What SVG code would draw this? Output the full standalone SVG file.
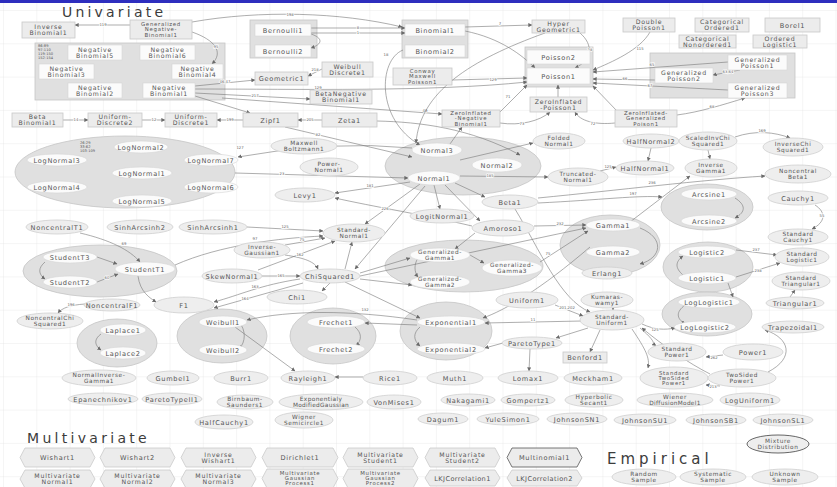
<svg xmlns="http://www.w3.org/2000/svg" width="837" height="487" viewBox="0 0 837 487">
<defs>
<pattern id="grid" x="3" y="10" width="33.3" height="33.3" patternUnits="userSpaceOnUse"><path d="M33.3 0 L0 0 0 33.3" fill="none" stroke="#e3e3e3" stroke-width="0.7"/></pattern>
<marker id="a" viewBox="0 0 6 6" refX="5.5" refY="3" markerWidth="4" markerHeight="4" markerUnits="userSpaceOnUse" orient="auto"><path d="M0 0 L6 3 L0 6 z" fill="#6a6a6a"/></marker>
<style>
text{font-family:"DejaVu Sans",sans-serif;fill:#555555;text-anchor:middle}
.t{font-size:6.6px;letter-spacing:0.7px}
.ts{font-size:6.2px;letter-spacing:0.8px}
.te{font-size:5.8px;letter-spacing:0.6px}
.t3{font-size:5.4px;letter-spacing:0.7px}
.ttl{font-size:14px;letter-spacing:3.2px;text-anchor:start;fill:#3c3c3c}
.n{fill:#ececec;stroke:#c8c8c8;stroke-width:0.8}
.e{fill:#eeeeee;stroke:#cfcfcf;stroke-width:0.8}
.gp{fill:#e0e0e0;stroke:#c5c5c5;stroke-width:0.8}
.w{fill:#fbfbfb;stroke:#d5d5d5;stroke-width:0.6}
.d{fill:#eeeeee;stroke:#555;stroke-width:0.9}
.h{fill:#ececec;stroke:#cacaca;stroke-width:0.8}
.c{fill:none;stroke:#777;stroke-width:0.6;marker-end:url(#a)}
.lb{font-size:3.8px;fill:#666;stroke:#fff;stroke-width:1.4px;paint-order:stroke}
.gl{font-size:3.6px;fill:#555;text-anchor:start}
</style>
</defs>
<rect width="837" height="487" fill="#ffffff"/>
<rect width="837" height="487" fill="url(#grid)"/>
<rect x="0" y="0" width="837" height="3" fill="#2e2ebe"/>

<text class="ttl" x="62" y="17">Univariate</text>
<text class="ttl" x="27" y="443" style="letter-spacing:3.3px">Multivariate</text>
<text class="ttl" x="607" y="464" style="font-size:15px;letter-spacing:4px">Empirical</text>

<!-- group containers -->
<g id="grp-negbin"><rect class="gp" x="35" y="43" width="190" height="57"/><text class="gl" x="38" y="47">86-89</text><text class="gl" x="38" y="51">97-110</text><text class="gl" x="38" y="55">119-150</text><text class="gl" x="38" y="59">152-154</text></g>
<g id="grp-bernoulli"><rect class="gp" x="250" y="20" width="67" height="38"/></g>
<g id="grp-binomial"><rect class="gp" x="402" y="20" width="66" height="38"/></g>
<g id="grp-poisson"><rect class="gp" x="525" y="47" width="68" height="40"/></g>
<g id="grp-genpoisson"><rect class="gp" x="650" y="53" width="145" height="45"/></g>
<g id="grp-lognormal"><ellipse class="gp" cx="125" cy="172" rx="110" ry="36"/><text class="gl" x="80" y="144">26-29</text><text class="gl" x="80" y="148">33-62</text><text class="gl" x="80" y="152">103-109</text></g>
<g id="grp-normal"><ellipse class="gp" cx="463" cy="166" rx="78" ry="29"/></g>
<g id="grp-arcsine"><ellipse class="gp" cx="707" cy="207" rx="46" ry="23"/></g>
<g id="grp-gamma"><ellipse class="gp" cx="610" cy="245" rx="50" ry="30"/></g>
<g id="grp-logistic"><ellipse class="gp" cx="708" cy="267" rx="45" ry="25"/></g>
<g id="grp-loglogistic"><ellipse class="gp" cx="707" cy="314" rx="45" ry="22"/></g>
<g id="grp-studentt"><ellipse class="gp" cx="100" cy="271" rx="77" ry="26"/></g>
<g id="grp-gengamma"><ellipse class="gp" cx="464" cy="266" rx="79" ry="26"/></g>
<g id="grp-weibull"><ellipse class="gp" cx="222" cy="336" rx="45" ry="27"/></g>
<g id="grp-frechet"><ellipse class="gp" cx="333" cy="336" rx="43" ry="28"/></g>
<g id="grp-exponential"><ellipse class="gp" cx="446" cy="331" rx="46" ry="29"/></g>
<g id="grp-laplace"><ellipse class="gp" cx="117" cy="343" rx="40" ry="24"/></g>

<!-- connectors -->
<g id="connectors">
<path class="c" d="M130 25 L75 25"/><text class="lb" x="103" y="26">119</text>
<path class="c" d="M192 22 C260 10 340 12 402 27"/><text class="lb" x="290" y="16">198</text>
<path class="c" d="M192 32 C215 40 224 52 212 64"/><text class="lb" x="216" y="48">95</text>
<path class="c" d="M311 28 L405 28"/><text class="lb" x="358" y="29">8</text>
<path class="c" d="M311 33 L405 33"/><text class="lb" x="358" y="34">1</text>
<path class="c" d="M311 34 C323 38 323 44 311 48"/>
<path class="c" d="M322 69 L308 76"/><text class="lb" x="315" y="71">218</text>
<path class="c" d="M195 86 L255 80"/><text class="lb" x="225" y="83">46,47</text>
<path class="c" d="M195 89 C300 89 430 92 527 82"/><text class="lb" x="318" y="89">129</text>
<path class="c" d="M195 93 L310 99"/><text class="lb" x="255" y="97">217</text>
<path class="c" d="M222 98 L442 114"/><text class="lb" x="425" y="112">49</text>
<path class="c" d="M195 96 L250 113"/>
<path class="c" d="M243 120 L217 120"/><text class="lb" x="230" y="121">199</text>
<path class="c" d="M142 120 L165 120"/><text class="lb" x="154" y="121">12</text>
<path class="c" d="M63 120 L88 120"/><text class="lb" x="76" y="121">14</text>
<path class="c" d="M322 120 L298 120"/><text class="lb" x="310" y="121">205</text>
<path class="c" d="M377 121 C420 122 470 128 520 155"/>
<path class="c" d="M285 127 L412 157"/><text class="lb" x="318" y="136">82</text>
<path class="c" d="M452 80 L527 78"/><text class="lb" x="493" y="81">129</text>
<path class="c" d="M465 27 L532 25"/><text class="lb" x="500" y="25">7</text>
<path class="c" d="M465 31 C500 38 522 55 535 68"/>
<path class="c" d="M580 33 C594 45 592 60 575 68"/><text class="lb" x="590" y="51">28</text>
<path class="c" d="M545 33 C470 60 420 92 416 143"/>
<path class="c" d="M403 50 C378 60 376 120 420 145"/><text class="lb" x="386" y="56">18</text>
<path class="c" d="M650 32 C640 50 612 62 593 70"/><text class="lb" x="640" y="50">115</text>
<path class="c" d="M728 62 L593 72"/><text class="lb" x="652" y="66">65</text>
<path class="c" d="M655 80 L593 79"/><text class="lb" x="625" y="80">66</text>
<path class="c" d="M728 90 L593 83"/><text class="lb" x="650" y="87">67</text>
<path class="c" d="M740 70 L713 75"/><text class="lb" x="728" y="73">63,64</text>
<path class="c" d="M677 115 C700 112 722 105 745 98"/><text class="lb" x="712" y="108">68</text>
<path class="c" d="M617 111 L593 86"/>
<path class="c" d="M558 97 L558 85"/>
<path class="c" d="M500 112 L527 85"/><text class="lb" x="508" y="98">71</text>
<path class="c" d="M500 123 C520 126 540 121 550 112"/><text class="lb" x="522" y="125">73</text>
<path class="c" d="M615 123 C595 125 580 121 575 112"/><text class="lb" x="593" y="125">72</text>
<path class="c" d="M450 144 L462 127"/>
<path class="c" d="M460 160 L533 143"/>
<path class="c" d="M235 173 L408 178"/><text class="lb" x="282" y="175">23</text>
<path class="c" d="M412 148 Q330 140 238 157"/><text class="lb" x="240" y="149">127</text>
<path class="c" d="M410 182 L335 193"/><text class="lb" x="370" y="187">181</text>
<path class="c" d="M420 184 L365 224"/>
<path class="c" d="M472 226 C430 216 370 206 335 198"/><text class="lb" x="385" y="210">226</text>
<path class="c" d="M247 227 L323 231"/><text class="lb" x="285" y="228">125</text>
<path class="c" d="M175 265 C220 245 280 238 323 236"/><text class="lb" x="255" y="240">97</text>
<path class="c" d="M285 245 L325 238"/><text class="lb" x="302" y="241">75</text>
<path class="c" d="M285 255 C305 258 315 262 318 269"/>
<path class="c" d="M262 276 L300 276"/><text class="lb" x="281" y="277">165</text>
<path class="c" d="M258 270 L335 241"/><text class="lb" x="300" y="256">162</text>
<path class="c" d="M345 269 L352 242"/>
<path class="c" d="M300 279 C260 285 240 295 214 302"/><text class="lb" x="255" y="288">163</text>
<path class="c" d="M303 283 L214 308"/><text class="lb" x="245" y="300">164</text>
<path class="c" d="M330 283 L322 291"/>
<path class="c" d="M425 186 L355 269"/>
<path class="c" d="M80 233 C110 240 130 250 140 262"/><text class="lb" x="124" y="245">69</text>
<path class="c" d="M97 257 L117 264"/>
<path class="c" d="M97 282 L118 274"/><text class="lb" x="107" y="279">60</text>
<path class="c" d="M138 276 C140 292 150 298 156 302"/>
<path class="c" d="M85 304 C70 305 62 308 58 313"/><text class="lb" x="71" y="306">196</text>
<path class="c" d="M455 183 L485 197"/>
<path class="c" d="M460 176 L548 177"/><text class="lb" x="490" y="177">185</text>
<path class="c" d="M434 185 L440 209"/>
<path class="c" d="M445 185 L480 221"/>
<path class="c" d="M600 171 L616 167"/><text class="lb" x="608" y="168">125</text>
<path class="c" d="M651 148 L648 161"/>
<path class="c" d="M538 198 C620 190 700 180 765 176"/><text class="lb" x="652" y="184">236</text>
<path class="c" d="M538 203 C600 200 640 195 662 197"/><text class="lb" x="633" y="195">197</text>
<path class="c" d="M735 198 C746 205 746 212 735 218"/>
<path class="c" d="M534 226 L586 225"/><text class="lb" x="560" y="225">232</text>
<path class="c" d="M475 233 L455 249"/>
<path class="c" d="M540 262 L588 231"/><text class="lb" x="548" y="255">75</text>
<path class="c" d="M360 273 L410 258"/>
<path class="c" d="M360 276 L586 228"/>
<path class="c" d="M360 279 L412 285"/>
<path class="c" d="M590 247 C540 290 505 310 483 318"/>
<path class="c" d="M630 222 L690 176"/>
<path class="c" d="M708 150 L710 159"/>
<path class="c" d="M735 137 C755 130 775 132 790 138"/><text class="lb" x="762" y="132">169</text>
<path class="c" d="M815 205 C826 212 826 222 812 229"/><text class="lb" x="822" y="217">55</text>
<path class="c" d="M736 250 L777 255"/><text class="lb" x="756" y="251">237</text>
<path class="c" d="M736 277 L780 263"/><text class="lb" x="758" y="272">238</text>
<path class="c" d="M683 275 C675 268 675 262 683 256"/>
<path class="c" d="M728 283 L733 297"/>
<path class="c" d="M685 305 C676 312 676 318 685 324"/>
<path class="c" d="M640 228 C665 238 662 258 640 264"/>
<path class="c" d="M790 297 L795 290"/>
<path class="c" d="M768 372 C795 358 790 338 765 330"/>
<path class="c" d="M723 355 L706 357"/><text class="lb" x="714" y="359">262</text>
<path class="c" d="M720 386 L706 385"/><text class="lb" x="713" y="388">213</text>
<path class="c" d="M640 328 C652 338 656 344 652 345"/>
<path class="c" d="M642 324 C655 330 665 330 675 328"/><text class="lb" x="655" y="331">125</text>
<path class="c" d="M632 329 C646 350 650 358 648 368"/>
<path class="c" d="M710 374 C690 364 662 345 642 328"/>
<path class="c" d="M613 308 L613 310"/>
<path class="c" d="M555 305 L583 316"/><text class="lb" x="567" y="309">201,202</text>
<path class="c" d="M515 209 C540 250 560 300 590 312"/>
<path class="c" d="M582 321 L485 323"/><text class="lb" x="533" y="321">11</text>
<path class="c" d="M600 330 L590 352"/>
<path class="c" d="M503 343 L485 348"/>
<path class="c" d="M588 328 L556 338"/>
<path class="c" d="M530 349 L529 371"/>
<path class="c" d="M417 320 C350 310 290 310 247 320"/><text class="lb" x="365" y="311">132</text>
<path class="c" d="M417 325 L365 323"/>
<path class="c" d="M235 327 L295 371"/>
<path class="c" d="M363 377 L335 377"/>
<path class="c" d="M345 282 L420 318"/>
<path class="c" d="M239 322 C246 330 246 342 239 349"/>
<path class="c" d="M355 327 C362 333 362 340 356 346"/>
<path class="c" d="M420 327 C413 333 413 340 420 346"/>
<path class="c" d="M101 334 C94 339 94 345 101 350"/>
<path class="c" d="M45 262 C38 268 38 274 45 279"/>
<path class="c" d="M418 258 C414 264 414 272 418 277"/>
<path class="c" d="M470 255 L484 263"/>
</g>

<!-- rectangle nodes -->
<g id="InverseBinomial1"><rect class="n" x="22" y="22" width="53" height="16"/><text class="ts" x="48.5" y="29.2">Inverse</text><text class="ts" x="48.5" y="35.4">Binomial1</text></g>
<g id="GeneralizedNegativeBinomial1"><rect class="n" x="130" y="20" width="62" height="19"/><text class="t3" x="161" y="26">Generalized</text><text class="t3" x="161" y="31.4">Negative-</text><text class="t3" x="161" y="36.8">Binomial1</text></g>
<g id="NegativeBinomial5"><rect class="w" x="68" y="45" width="54" height="15"/><text class="ts" x="95" y="51.7">Negative</text><text class="ts" x="95" y="57.9">Binomial5</text></g>
<g id="NegativeBinomial6"><rect class="w" x="140" y="45" width="55" height="15"/><text class="ts" x="167.5" y="51.7">Negative</text><text class="ts" x="167.5" y="57.9">Binomial6</text></g>
<g id="NegativeBinomial3"><rect class="w" x="39" y="64" width="55" height="15"/><text class="ts" x="66.5" y="70.7">Negative</text><text class="ts" x="66.5" y="76.9">Binomial3</text></g>
<g id="NegativeBinomial4"><rect class="w" x="172" y="64" width="51" height="15"/><text class="ts" x="197.5" y="70.7">Negative</text><text class="ts" x="197.5" y="76.9">Binomial4</text></g>
<g id="NegativeBinomial2"><rect class="w" x="68" y="83" width="54" height="15"/><text class="ts" x="95" y="89.7">Negative</text><text class="ts" x="95" y="95.9">Binomial2</text></g>
<g id="NegativeBinomial1"><rect class="w" x="143" y="83" width="52" height="15"/><text class="ts" x="169" y="89.7">Negative</text><text class="ts" x="169" y="95.9">Binomial1</text></g>
<g id="BetaBinomial1"><rect class="n" x="12" y="113" width="51" height="14"/><text class="ts" x="37.5" y="119.2">Beta</text><text class="ts" x="37.5" y="125.4">Binomial1</text></g>
<g id="UniformDiscrete2"><rect class="n" x="88" y="113" width="54" height="14"/><text class="ts" x="115" y="119.2">Uniform-</text><text class="ts" x="115" y="125.4">Discrete2</text></g>
<g id="UniformDiscrete1"><rect class="n" x="165" y="113" width="52" height="14"/><text class="ts" x="191" y="119.2">Uniform-</text><text class="ts" x="191" y="125.4">Discrete1</text></g>
<g id="Bernoulli1"><rect class="w" x="255" y="24" width="56" height="12"/><text class="t" x="283" y="32.5">Bernoulli1</text></g>
<g id="Bernoulli2"><rect class="w" x="255" y="45" width="56" height="12"/><text class="t" x="283" y="53.5">Bernoulli2</text></g>
<g id="WeibullDiscrete1"><rect class="n" x="322" y="62" width="51" height="15"/><text class="ts" x="347.5" y="68.7">Weibull</text><text class="ts" x="347.5" y="74.9">Discrete1</text></g>
<g id="Geometric1"><rect class="n" x="255" y="72" width="53" height="13"/><text class="t" x="281.5" y="81">Geometric1</text></g>
<g id="BetaNegativeBinomial1"><rect class="n" x="310" y="90" width="62" height="14"/><text class="ts" x="341" y="96.2">BetaNegative</text><text class="ts" x="341" y="102.4">Binomial1</text></g>
<g id="Zipf1"><rect class="n" x="243" y="113" width="55" height="14"/><text class="t" x="270.5" y="122.5">Zipf1</text></g>
<g id="Zeta1"><rect class="n" x="322" y="113" width="55" height="14"/><text class="t" x="349.5" y="122.5">Zeta1</text></g>
<g id="ConwayMaxwellPoisson1"><rect class="n" x="393" y="68" width="59" height="17"/><text class="t3" x="422.5" y="73">Conway</text><text class="t3" x="422.5" y="78.4">Maxwell</text><text class="t3" x="422.5" y="83.8">Poisson1</text></g>
<g id="Binomial1"><rect class="w" x="405" y="24" width="60" height="12"/><text class="t" x="435" y="32.5">Binomial1</text></g>
<g id="Binomial2"><rect class="w" x="405" y="45" width="60" height="12"/><text class="t" x="435" y="53.5">Binomial2</text></g>
<g id="HyperGeometric1"><rect class="n" x="532" y="20" width="53" height="13"/><text class="ts" x="558.5" y="25.7">Hyper</text><text class="ts" x="558.5" y="31.9">Geometric1</text></g>
<g id="Poisson2"><rect class="w" x="527" y="50" width="63" height="14"/><text class="t" x="558.5" y="59.5">Poisson2</text></g>
<g id="Poisson1"><rect class="w" x="527" y="68" width="63" height="16"/><text class="t" x="558.5" y="78.5">Poisson1</text></g>
<g id="ZeroInflatedPoisson1"><rect class="n" x="530" y="97" width="57" height="15"/><text class="ts" x="558.5" y="103.7">ZeroInflated</text><text class="ts" x="558.5" y="109.9">-Poisson1</text></g>
<g id="ZeroInflatedNegativeBinomial1"><rect class="n" x="442" y="110" width="58" height="17"/><text class="t3" x="471" y="115">ZeroInflated</text><text class="t3" x="471" y="120.4">-Negative</text><text class="t3" x="471" y="125.8">Binomial1</text></g>
<g id="DoublePoisson1"><rect class="n" x="623" y="18" width="52" height="14"/><text class="ts" x="649" y="24.2">Double</text><text class="ts" x="649" y="30.4">Poisson1</text></g>
<g id="CategoricalOrdered1"><rect class="n" x="695" y="18" width="54" height="14"/><text class="ts" x="722" y="24.2">Categorical</text><text class="ts" x="722" y="30.4">Ordered1</text></g>
<g id="Borel1"><rect class="n" x="765" y="18" width="55" height="14"/><text class="t" x="792.5" y="27.5">Borel1</text></g>
<g id="CategoricalNonordered1"><rect class="n" x="679" y="35" width="57" height="13"/><text class="ts" x="707.5" y="40.7">Categorical</text><text class="ts" x="707.5" y="46.9">Nonordered1</text></g>
<g id="OrderedLogistic1"><rect class="n" x="753" y="35" width="54" height="13"/><text class="ts" x="780" y="40.7">Ordered</text><text class="ts" x="780" y="46.9">Logistic1</text></g>
<g id="GeneralizedPoisson1"><rect class="w" x="728" y="55" width="59" height="15"/><text class="ts" x="757.5" y="61.7">Generalized</text><text class="ts" x="757.5" y="67.9">Poisson1</text></g>
<g id="GeneralizedPoisson2"><rect class="w" x="655" y="68" width="58" height="15"/><text class="ts" x="684" y="74.7">Generalized</text><text class="ts" x="684" y="80.9">Poisson2</text></g>
<g id="GeneralizedPoisson3"><rect class="w" x="728" y="83" width="59" height="15"/><text class="ts" x="757.5" y="89.7">Generalized</text><text class="ts" x="757.5" y="95.9">Poisson3</text></g>
<g id="ZeroInflatedGeneralizedPoison1"><rect class="n" x="615" y="110" width="62" height="17"/><text class="t3" x="646" y="115">ZeroInflated-</text><text class="t3" x="646" y="120.4">Generalized</text><text class="t3" x="646" y="125.8">Poison1</text></g>
<g id="Benford1"><rect class="n" x="563" y="352" width="44" height="11"/><text class="t" x="585" y="360">Benford1</text></g>

<!-- ellipse nodes -->
<g id="LogNormal2"><ellipse class="w" cx="141" cy="147" rx="27" ry="6"/><text class="t" x="141" y="149.5">LogNormal2</text></g>
<g id="LogNormal3"><ellipse class="w" cx="57" cy="160" rx="30" ry="6"/><text class="t" x="57" y="162.5">LogNormal3</text></g>
<g id="LogNormal7"><ellipse class="w" cx="211" cy="160" rx="27" ry="6"/><text class="t" x="211" y="162.5">LogNormal7</text></g>
<g id="LogNormal1"><ellipse class="w" cx="142" cy="173" rx="30" ry="6"/><text class="t" x="142" y="175.5">LogNormal1</text></g>
<g id="LogNormal4"><ellipse class="w" cx="57" cy="187" rx="30" ry="6"/><text class="t" x="57" y="189.5">LogNormal4</text></g>
<g id="LogNormal6"><ellipse class="w" cx="211" cy="187" rx="27" ry="6"/><text class="t" x="211" y="189.5">LogNormal6</text></g>
<g id="LogNormal5"><ellipse class="w" cx="142" cy="201" rx="30" ry="6"/><text class="t" x="142" y="203.5">LogNormal5</text></g>
<g id="MaxwellBoltzmann1"><ellipse class="e" cx="304" cy="146" rx="33" ry="8"/><text class="te" x="304" y="145.2">Maxwell</text><text class="te" x="304" y="151.2">Boltzmann1</text></g>
<g id="PowerNormal1"><ellipse class="e" cx="329" cy="167" rx="29" ry="9"/><text class="te" x="329" y="166.2">Power-</text><text class="te" x="329" y="172.2">Normal1</text></g>
<g id="Normal3"><ellipse class="w" cx="437" cy="150" rx="25" ry="7"/><text class="t" x="437" y="152.5">Normal3</text></g>
<g id="Normal1"><ellipse class="w" cx="434" cy="178" rx="26" ry="7"/><text class="t" x="434" y="180.5">Normal1</text></g>
<g id="Normal2"><ellipse class="w" cx="497" cy="165" rx="25" ry="7"/><text class="t" x="497" y="167.5">Normal2</text></g>
<g id="FoldedNormal1"><ellipse class="e" cx="559" cy="141" rx="26" ry="8"/><text class="te" x="559" y="140.2">Folded</text><text class="te" x="559" y="146.2">Normal1</text></g>
<g id="HalfNormal2"><ellipse class="e" cx="651" cy="141" rx="28" ry="7"/><text class="t" x="651" y="143.5">HalfNormal2</text></g>
<g id="ScaledInvChiSquared1"><ellipse class="e" cx="708" cy="141" rx="29" ry="9"/><text class="te" x="708" y="140.2">ScaledInvChi</text><text class="te" x="708" y="146.2">Squared1</text></g>
<g id="InverseChiSquared1"><ellipse class="e" cx="793" cy="147" rx="30" ry="9"/><text class="te" x="793" y="146.2">InverseChi</text><text class="te" x="793" y="152.2">Squared1</text></g>
<g id="Levy1"><ellipse class="e" cx="305" cy="195" rx="30" ry="7"/><text class="t" x="305" y="197.5">Levy1</text></g>
<g id="LogitNormal1"><ellipse class="e" cx="442" cy="216" rx="32" ry="7"/><text class="t" x="442" y="218.5">LogitNormal1</text></g>
<g id="Beta1"><ellipse class="e" cx="510" cy="202" rx="28" ry="7"/><text class="t" x="510" y="204.5">Beta1</text></g>
<g id="TruncatedNormal1"><ellipse class="e" cx="578" cy="177" rx="30" ry="9"/><text class="te" x="578" y="176.2">Truncated-</text><text class="te" x="578" y="182.2">Normal1</text></g>
<g id="HalfNormal1"><ellipse class="e" cx="645" cy="168" rx="29" ry="7"/><text class="t" x="645" y="170.5">HalfNormal1</text></g>
<g id="InverseGamma1"><ellipse class="e" cx="711" cy="168" rx="26" ry="9"/><text class="te" x="711" y="167.2">Inverse</text><text class="te" x="711" y="173.2">Gamma1</text></g>
<g id="NoncentralBeta1"><ellipse class="e" cx="798" cy="174" rx="33" ry="9"/><text class="te" x="798" y="173.2">Noncentral</text><text class="te" x="798" y="179.2">Beta1</text></g>
<g id="Arcsine1"><ellipse class="w" cx="709" cy="194" rx="28" ry="6"/><text class="t" x="709" y="196.5">Arcsine1</text></g>
<g id="Arcsine2"><ellipse class="w" cx="709" cy="221" rx="28" ry="6"/><text class="t" x="709" y="223.5">Arcsine2</text></g>
<g id="Cauchy1"><ellipse class="e" cx="798" cy="198" rx="30" ry="7"/><text class="t" x="798" y="200.5">Cauchy1</text></g>
<g id="StandardCauchy1"><ellipse class="e" cx="798" cy="237" rx="30" ry="8"/><text class="te" x="798" y="236.2">Standard</text><text class="te" x="798" y="242.2">Cauchy1</text></g>
<g id="NoncentralT1"><ellipse class="e" cx="57" cy="227" rx="31" ry="7"/><text class="t" x="57" y="229.5">NoncentralT1</text></g>
<g id="SinhArcsinh2"><ellipse class="e" cx="140" cy="227" rx="33" ry="7"/><text class="t" x="140" y="229.5">SinhArcsinh2</text></g>
<g id="SinhArcsinh1"><ellipse class="e" cx="213" cy="227" rx="34" ry="7"/><text class="t" x="213" y="229.5">SinhArcsinh1</text></g>
<g id="StandardNormal1"><ellipse class="e" cx="354" cy="233" rx="31" ry="9"/><text class="te" x="354" y="232.2">Standard-</text><text class="te" x="354" y="238.2">Normal1</text></g>
<g id="Amoroso1"><ellipse class="e" cx="503" cy="228" rx="31" ry="8"/><text class="t" x="503" y="230.5">Amoroso1</text></g>
<g id="Gamma1"><ellipse class="w" cx="613" cy="225" rx="27" ry="6"/><text class="t" x="613" y="227.5">Gamma1</text></g>
<g id="Gamma2"><ellipse class="w" cx="613" cy="252" rx="27" ry="6"/><text class="t" x="613" y="254.5">Gamma2</text></g>
<g id="Logistic2"><ellipse class="w" cx="707" cy="252" rx="29" ry="6"/><text class="t" x="707" y="254.5">Logistic2</text></g>
<g id="Logistic1"><ellipse class="w" cx="707" cy="278" rx="29" ry="6"/><text class="t" x="707" y="280.5">Logistic1</text></g>
<g id="StandardLogistic1"><ellipse class="e" cx="802" cy="257" rx="27" ry="9"/><text class="te" x="802" y="256.2">Standard</text><text class="te" x="802" y="262.2">Logistic1</text></g>
<g id="StandardTriangular1"><ellipse class="e" cx="801" cy="281" rx="29" ry="9"/><text class="te" x="801" y="280.2">Standard</text><text class="te" x="801" y="286.2">Triangular1</text></g>
<g id="Triangular1"><ellipse class="e" cx="795" cy="303" rx="29" ry="6"/><text class="t" x="795" y="305.5">Triangular1</text></g>
<g id="InverseGaussian1"><ellipse class="e" cx="262" cy="250" rx="28" ry="8"/><text class="te" x="262" y="249.2">Inverse-</text><text class="te" x="262" y="255.2">Gaussian1</text></g>
<g id="StudentT3"><ellipse class="w" cx="70" cy="257" rx="27" ry="6"/><text class="t" x="70" y="259.5">StudentT3</text></g>
<g id="StudentT2"><ellipse class="w" cx="70" cy="282" rx="27" ry="6"/><text class="t" x="70" y="284.5">StudentT2</text></g>
<g id="StudentT1"><ellipse class="w" cx="145" cy="269" rx="30" ry="7"/><text class="t" x="145" y="271.5">StudentT1</text></g>
<g id="GeneralizedGamma1"><ellipse class="w" cx="440" cy="255" rx="30" ry="7"/><text class="te" x="440" y="254.2">Generalized-</text><text class="te" x="440" y="260.2">Gamma1</text></g>
<g id="GeneralizedGamma2"><ellipse class="w" cx="440" cy="282" rx="30" ry="7"/><text class="te" x="440" y="281.2">Generalized-</text><text class="te" x="440" y="287.2">Gamma2</text></g>
<g id="GeneralizedGamma3"><ellipse class="w" cx="512" cy="268" rx="30" ry="8"/><text class="te" x="512" y="267.2">Generalized-</text><text class="te" x="512" y="273.2">Gamma3</text></g>
<g id="SkewNormal1"><ellipse class="e" cx="232" cy="276" rx="30" ry="7"/><text class="t" x="232" y="278.5">SkewNormal1</text></g>
<g id="ChiSquared1"><ellipse class="e" cx="330" cy="276" rx="30" ry="7"/><text class="t" x="330" y="278.5">ChiSquared1</text></g>
<g id="Erlang1"><ellipse class="e" cx="607" cy="273" rx="25" ry="6"/><text class="t" x="607" y="275.5">Erlang1</text></g>
<g id="Kumaraswamy1"><ellipse class="e" cx="607" cy="300" rx="26" ry="8"/><text class="te" x="607" y="299.2">Kumaras-</text><text class="te" x="607" y="305.2">wamy1</text></g>
<g id="Chi1"><ellipse class="e" cx="297" cy="297" rx="30" ry="7"/><text class="t" x="297" y="299.5">Chi1</text></g>
<g id="NoncentralF1"><ellipse class="e" cx="112" cy="305" rx="28" ry="6"/><text class="t" x="112" y="307.5">NoncentralF1</text></g>
<g id="F1"><ellipse class="e" cx="184" cy="305" rx="30" ry="8"/><text class="t" x="184" y="307.5">F1</text></g>
<g id="Uniform1"><ellipse class="e" cx="527" cy="300" rx="31" ry="8"/><text class="t" x="527" y="302.5">Uniform1</text></g>
<g id="LogLogistic1"><ellipse class="w" cx="709" cy="302" rx="31" ry="6"/><text class="t" x="709" y="304.5">LogLogistic1</text></g>
<g id="LogLogistic2"><ellipse class="w" cx="705" cy="327" rx="31" ry="6"/><text class="t" x="705" y="329.5">LogLogistic2</text></g>
<g id="NoncentralChiSquared1"><ellipse class="e" cx="50" cy="321" rx="33" ry="8"/><text class="te" x="50" y="320.2">NoncentralChi</text><text class="te" x="50" y="326.2">Squared1</text></g>
<g id="Weibull1"><ellipse class="w" cx="223" cy="322" rx="24" ry="6"/><text class="t" x="223" y="324.5">Weibull1</text></g>
<g id="Weibull2"><ellipse class="w" cx="223" cy="350" rx="24" ry="6"/><text class="t" x="223" y="352.5">Weibull2</text></g>
<g id="Frechet1"><ellipse class="w" cx="336" cy="322" rx="29" ry="6"/><text class="t" x="336" y="324.5">Frechet1</text></g>
<g id="Frechet2"><ellipse class="w" cx="336" cy="349" rx="29" ry="6"/><text class="t" x="336" y="351.5">Frechet2</text></g>
<g id="Exponential1"><ellipse class="w" cx="451" cy="322" rx="34" ry="6"/><text class="t" x="451" y="324.5">Exponential1</text></g>
<g id="Exponential2"><ellipse class="w" cx="451" cy="349" rx="34" ry="6"/><text class="t" x="451" y="351.5">Exponential2</text></g>
<g id="StandardUniform1"><ellipse class="e" cx="612" cy="320" rx="32" ry="10"/><text class="te" x="612" y="319.2">Standard-</text><text class="te" x="612" y="325.2">Uniform1</text></g>
<g id="Trapezoidal1"><ellipse class="e" cx="793" cy="327" rx="31" ry="6"/><text class="t" x="793" y="329.5">Trapezoidal1</text></g>
<g id="Laplace1"><ellipse class="w" cx="123" cy="330" rx="23" ry="6"/><text class="t" x="123" y="332.5">Laplace1</text></g>
<g id="Laplace2"><ellipse class="w" cx="123" cy="353" rx="23" ry="6"/><text class="t" x="123" y="355.5">Laplace2</text></g>
<g id="ParetoType1"><ellipse class="e" cx="532" cy="343" rx="30" ry="6"/><text class="t" x="532" y="345.5">ParetoType1</text></g>
<g id="StandardPower1"><ellipse class="e" cx="677" cy="352" rx="29" ry="9"/><text class="te" x="677" y="351.2">Standard</text><text class="te" x="677" y="357.2">Power1</text></g>
<g id="Power1"><ellipse class="e" cx="753" cy="352" rx="30" ry="8"/><text class="t" x="753" y="354.5">Power1</text></g>
<g id="NormalInverseGamma1"><ellipse class="e" cx="99" cy="378" rx="37" ry="8"/><text class="te" x="99" y="377.2">NormalInverse-</text><text class="te" x="99" y="383.2">Gamma1</text></g>
<g id="Gumbel1"><ellipse class="e" cx="173" cy="378" rx="26" ry="7"/><text class="t" x="173" y="380.5">Gumbel1</text></g>
<g id="Burr1"><ellipse class="e" cx="241" cy="378" rx="27" ry="7"/><text class="t" x="241" y="380.5">Burr1</text></g>
<g id="Rayleigh1"><ellipse class="e" cx="308" cy="378" rx="27" ry="7"/><text class="t" x="308" y="380.5">Rayleigh1</text></g>
<g id="Rice1"><ellipse class="e" cx="390" cy="378" rx="27" ry="7"/><text class="t" x="390" y="380.5">Rice1</text></g>
<g id="Muth1"><ellipse class="e" cx="455" cy="378" rx="28" ry="7"/><text class="t" x="455" y="380.5">Muth1</text></g>
<g id="Lomax1"><ellipse class="e" cx="528" cy="378" rx="30" ry="7"/><text class="t" x="528" y="380.5">Lomax1</text></g>
<g id="Meckham1"><ellipse class="e" cx="593" cy="378" rx="29" ry="7"/><text class="t" x="593" y="380.5">Meckham1</text></g>
<g id="StandardTwoSidedPower1"><ellipse class="e" cx="674" cy="378" rx="34" ry="11"/><text class="t3" x="674" y="374.5">Standard</text><text class="t3" x="674" y="379.9">TwoSided</text><text class="t3" x="674" y="385.3">Power1</text></g>
<g id="TwoSidedPower1"><ellipse class="e" cx="742" cy="378" rx="34" ry="9"/><text class="te" x="742" y="377.2">TwoSided</text><text class="te" x="742" y="383.2">Power1</text></g>
<g id="Epanechnikov1"><ellipse class="e" cx="103" cy="399" rx="35" ry="6"/><text class="t" x="103" y="401.5">Epanechnikov1</text></g>
<g id="ParetoTypeII1"><ellipse class="e" cx="172" cy="399" rx="30" ry="6"/><text class="t" x="172" y="401.5">ParetoTypeII1</text></g>
<g id="BirnbaumSaunders1"><ellipse class="e" cx="245" cy="402" rx="28" ry="7"/><text class="te" x="245" y="401.2">Birnbaum-</text><text class="te" x="245" y="407.2">Saunders1</text></g>
<g id="ExponentialyModifiedGaussian"><ellipse class="e" cx="321" cy="402" rx="42" ry="8"/><text class="te" x="321" y="401.2" style="letter-spacing:0.4px">Exponentialy</text><text class="te" x="321" y="407.2" style="letter-spacing:0.3px">ModifiedGaussian</text></g>
<g id="VonMises1"><ellipse class="e" cx="394" cy="402" rx="27" ry="7"/><text class="t" x="394" y="404.5">VonMises1</text></g>
<g id="Nakagami1"><ellipse class="e" cx="468" cy="400" rx="27" ry="6"/><text class="t" x="468" y="402.5">Nakagami1</text></g>
<g id="Gompertz1"><ellipse class="e" cx="528" cy="400" rx="27" ry="6"/><text class="t" x="528" y="402.5">Gompertz1</text></g>
<g id="HyperbolicSecant1"><ellipse class="e" cx="594" cy="400" rx="29" ry="7"/><text class="te" x="594" y="399.2">Hyperbolic</text><text class="te" x="594" y="405.2">Secant1</text></g>
<g id="WienerDiffusionModel1"><ellipse class="e" cx="675" cy="400" rx="38" ry="7"/><text class="te" x="675" y="399.2">Wiener</text><text class="te" x="675" y="405.2" style="letter-spacing:0.3px">DiffusionModel1</text></g>
<g id="LogUniform1"><ellipse class="e" cx="750" cy="400" rx="30" ry="7"/><text class="t" x="750" y="402.5">LogUniform1</text></g>
<g id="HalfCauchy1"><ellipse class="e" cx="224" cy="422" rx="29" ry="7"/><text class="t" x="224" y="424.5">HalfCauchy1</text></g>
<g id="WignerSemicircle1"><ellipse class="e" cx="304" cy="420" rx="29" ry="8"/><text class="te" x="304" y="419.2">Wigner</text><text class="te" x="304" y="425.2">Semicircle1</text></g>
<g id="Dagum1"><ellipse class="e" cx="443" cy="419" rx="25" ry="6"/><text class="t" x="443" y="421.5">Dagum1</text></g>
<g id="YuleSimon1"><ellipse class="e" cx="508" cy="419" rx="31" ry="6"/><text class="t" x="508" y="421.5">YuleSimon1</text></g>
<g id="JohnsonSN1"><ellipse class="e" cx="577" cy="419" rx="30" ry="6"/><text class="t" x="577" y="421.5">JohnsonSN1</text></g>
<g id="JohnsonSU1"><ellipse class="e" cx="645" cy="420" rx="31" ry="6"/><text class="t" x="645" y="422.5">JohnsonSU1</text></g>
<g id="JohnsonSB1"><ellipse class="e" cx="716" cy="420" rx="30" ry="6"/><text class="t" x="716" y="422.5">JohnsonSB1</text></g>
<g id="JohnsonSL1"><ellipse class="e" cx="783" cy="420" rx="30" ry="6"/><text class="t" x="783" y="422.5">JohnsonSL1</text></g>
<g id="MixtureDistribution"><ellipse class="d" cx="778" cy="444" rx="31" ry="9"/><text class="te" x="778" y="443.2">Mixture</text><text class="te" x="778" y="449.2">Distribution</text></g>
<g id="RandomSample"><ellipse class="e" cx="644" cy="477" rx="32" ry="8"/><text class="te" x="644" y="476.2">Random</text><text class="te" x="644" y="482.2">Sample</text></g>
<g id="SystematicSample"><ellipse class="e" cx="713" cy="477" rx="33" ry="8"/><text class="te" x="713" y="476.2">Systematic</text><text class="te" x="713" y="482.2">Sample</text></g>
<g id="UnknownSample"><ellipse class="e" cx="785" cy="477" rx="33" ry="8"/><text class="te" x="785" y="476.2">Unknown</text><text class="te" x="785" y="482.2">Sample</text></g>

<!-- multivariate nodes -->
<g id="Wishart1"><polygon class="h" points="25,448 90,448 95,457.5 90,467 25,467 20,457.5"/><text class="t" x="57.5" y="460">Wishart1</text></g>
<g id="Wishart2"><polygon class="h" points="105,448 170,448 175,457.5 170,467 105,467 100,457.5"/><text class="t" x="137.5" y="460">Wishart2</text></g>
<g id="InverseWishart1"><polygon class="h" points="186,448 251,448 256,457.5 251,467 186,467 181,457.5"/><text class="ts" x="218.5" y="456.7">Inverse</text><text class="ts" x="218.5" y="462.9">Wishart1</text></g>
<g id="Dirichlet1"><polygon class="h" points="267,448 333,448 338,457.5 333,467 267,467 262,457.5"/><text class="t" x="300" y="460">Dirichlet1</text></g>
<g id="MultivariateStudent1"><polygon class="h" points="348,448 413,448 418,457.5 413,467 348,467 343,457.5"/><text class="ts" x="380.5" y="456.7">Multivariate</text><text class="ts" x="380.5" y="462.9">Student1</text></g>
<g id="MultivariateStudent2"><polygon class="h" points="430,448 495,448 500,457.5 495,467 430,467 425,457.5"/><text class="ts" x="462.5" y="456.7">Multivariate</text><text class="ts" x="462.5" y="462.9">Student2</text></g>
<g id="Multinomial1"><polygon class="h" style="stroke:#555" points="512,448 577,448 582,457.5 577,467 512,467 507,457.5"/><text class="t" x="544.5" y="460">Multinomial1</text></g>
<g id="MultivariateNormal1"><polygon class="h" points="25,470 90,470 95,479 90,488 25,488 20,479"/><text class="ts" x="57.5" y="478.2">Multivariate</text><text class="ts" x="57.5" y="484.4">Normal1</text></g>
<g id="MultivariateNormal2"><polygon class="h" points="105,470 170,470 175,479 170,488 105,488 100,479"/><text class="ts" x="137.5" y="478.2">Multivariate</text><text class="ts" x="137.5" y="484.4">Normal2</text></g>
<g id="MultivariateNormal3"><polygon class="h" points="186,470 251,470 256,479 251,488 186,488 181,479"/><text class="ts" x="218.5" y="478.2">Multivariate</text><text class="ts" x="218.5" y="484.4">Normal3</text></g>
<g id="MultivariateGaussianProcess1"><polygon class="h" points="267,469 333,469 338,478.5 333,488 267,488 262,478.5"/><text class="t3" x="300" y="474.5">Multivariate</text><text class="t3" x="300" y="479.9">Gaussian</text><text class="t3" x="300" y="485.3">Process1</text></g>
<g id="MultivariateGaussianProcess2"><polygon class="h" points="348,469 413,469 418,478.5 413,488 348,488 343,478.5"/><text class="t3" x="380.5" y="474.5">Multivariate</text><text class="t3" x="380.5" y="479.9">Gaussian</text><text class="t3" x="380.5" y="485.3">Process2</text></g>
<g id="LKJCorrelation1"><polygon class="h" points="430,470 495,470 500,478 495,486 430,486 425,478"/><text class="t" x="462.5" y="480.5" style="letter-spacing:0.4px">LKJCorrelation1</text></g>
<g id="LKJCorrelation2"><polygon class="h" points="512,470 577,470 582,478 577,486 512,486 507,478"/><text class="t" x="544.5" y="480.5" style="letter-spacing:0.4px">LKJCorrelation2</text></g>
</svg>
